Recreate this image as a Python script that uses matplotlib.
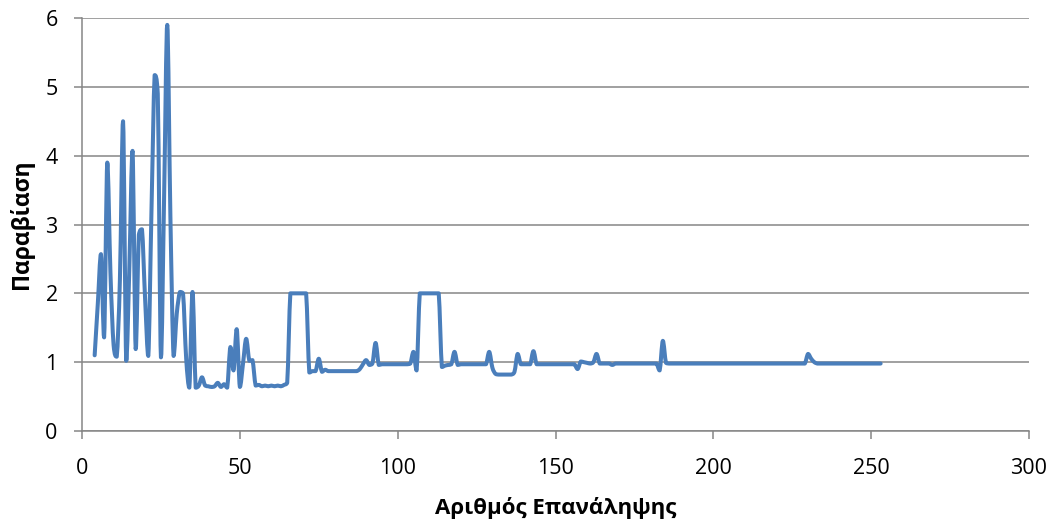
import matplotlib
matplotlib.use("Agg")
from matplotlib import pyplot as plt
from matplotlib.path import Path
from matplotlib.patches import PathPatch
import numpy as np

plt.rcParams["font.family"] = ["Open Sans", "DejaVu Sans"]

# iterations 4..253
iterations = list(range(4, 254))

# violation per iteration
violation = [
    1.10, 1.85, 2.57, 1.36, 3.90, 2.30, 1.25, 1.08, 2.20, 4.50,   # 4-13
    1.02, 2.40, 4.07, 1.19, 2.85, 2.93, 1.90, 1.09, 3.20, 5.17,   # 14-23
    4.90, 1.07, 3.40, 5.90, 3.10, 1.09, 1.70, 2.02, 2.00, 1.05,   # 24-33
    0.63, 2.02, 0.63, 0.66, 0.78, 0.66, 0.65, 0.64, 0.65, 0.70,   # 34-43
    0.64, 0.68, 0.63, 1.22, 0.88, 1.48, 0.64, 0.98, 1.34, 1.02,   # 44-53
    1.03, 0.66, 0.67, 0.65, 0.66, 0.65, 0.66, 0.65, 0.66, 0.65,   # 54-63
    0.67, 0.70, 2.00, 2.00, 2.00, 2.00, 2.00, 2.00, 0.85, 0.87,   # 64-73
    0.87, 1.05, 0.86, 0.89, 0.87, 0.87, 0.87, 0.87, 0.87, 0.87,   # 74-83
    0.87, 0.87, 0.87, 0.87, 0.90, 0.97, 1.03, 0.96, 0.98, 1.28,   # 84-93
    0.96, 0.97, 0.97, 0.97, 0.97, 0.97, 0.97, 0.97, 0.97, 0.97,   # 94-103
    0.98, 1.15, 0.88, 2.00, 2.00, 2.00, 2.00, 2.00, 2.00, 2.00,   # 104-113
    0.93, 0.95, 0.96, 0.97, 1.15, 0.96, 0.97, 0.97, 0.97, 0.97,   # 114-123
    0.97, 0.97, 0.97, 0.97, 0.97, 1.15, 0.92, 0.83, 0.82, 0.82,   # 124-133
    0.82, 0.82, 0.82, 0.86, 1.12, 0.97, 0.97, 0.97, 0.97, 1.16,   # 134-143
    0.97, 0.97, 0.97, 0.97, 0.97, 0.97, 0.97, 0.97, 0.97, 0.97,   # 144-153
    0.97, 0.97, 0.97, 0.90, 1.01, 1.00, 0.99, 0.98, 1.00, 1.12,   # 154-163
    0.98, 0.98, 0.98, 0.98, 0.96, 0.98, 0.98, 0.98, 0.98, 0.98,   # 164-173
    0.98, 0.98, 0.98, 0.98, 0.98, 0.98, 0.98, 0.98, 0.98, 0.88,   # 174-183
    1.31, 0.99, 0.98, 0.98, 0.98, 0.98, 0.98, 0.98, 0.98, 0.98,   # 184-193
    0.98, 0.98, 0.98, 0.98, 0.98, 0.98, 0.98, 0.98, 0.98, 0.98,   # 194-203
    0.98, 0.98, 0.98, 0.98, 0.98, 0.98, 0.98, 0.98, 0.98, 0.98,   # 204-213
    0.98, 0.98, 0.98, 0.98, 0.98, 0.98, 0.98, 0.98, 0.98, 0.98,   # 214-223
    0.98, 0.98, 0.98, 0.98, 0.98, 0.98, 1.12, 1.05, 1.00, 0.98,   # 224-233
    0.98, 0.98, 0.98, 0.98, 0.98, 0.98, 0.98, 0.98, 0.98, 0.98,   # 234-243
    0.98, 0.98, 0.98, 0.98, 0.98, 0.98, 0.98, 0.98, 0.98, 0.98,   # 244-253
]

x_ticks = [0, 50, 100, 150, 200, 250, 300]
y_ticks = [0, 1, 2, 3, 4, 5, 6]

line_color = "#4a7ebb"
grid_color = "#868686"


def smooth_path(xs, ys):
    # Excel-like smoothed line: cubic bezier through every point
    pts = np.column_stack([xs, ys]).astype(float)
    n = len(pts)
    verts = [tuple(pts[0])]
    codes = [Path.MOVETO]
    for i in range(n - 1):
        p0 = pts[max(i - 1, 0)]
        p1 = pts[i]
        p2 = pts[i + 1]
        p3 = pts[min(i + 2, n - 1)]
        c1 = p1 + (p2 - p0) / 6.0
        c2 = p2 - (p3 - p1) / 6.0
        lo, hi = min(p1[1], p2[1]), max(p1[1], p2[1])
        c1[1] = min(max(c1[1], lo), hi)
        c2[1] = min(max(c2[1], lo), hi)
        verts += [tuple(c1), tuple(c2), tuple(p2)]
        codes += [Path.CURVE4] * 3
    return Path(verts, codes)


fig = plt.figure(figsize=(10.53, 5.22), dpi=100)
ax = fig.add_axes([0.0779, 0.1743, 0.8993, 0.7912])

ax.add_patch(PathPatch(smooth_path(iterations, violation), facecolor="none",
                       edgecolor=line_color, linewidth=2.9, capstyle="round",
                       joinstyle="round", zorder=3))

ax.set_xlim(0, 300)
ax.set_ylim(0, 6)
ax.set_xticks(x_ticks)
ax.set_yticks(y_ticks)
ax.yaxis.grid(True, color=grid_color, linewidth=1.1, zorder=0)
ax.set_axisbelow(True)

for side in ["top", "right"]:
    ax.spines[side].set_visible(False)
for side in ["left", "bottom"]:
    ax.spines[side].set_color(grid_color)
    ax.spines[side].set_linewidth(1.1)

ax.tick_params(axis="both", direction="out", length=5.5, width=1.1,
               color=grid_color, labelsize=15.5)
ax.tick_params(axis="x", pad=14)
ax.tick_params(axis="y", pad=12)

ax.set_xlabel("Αριθμός Επανάληψης", fontsize=16, fontweight="bold", labelpad=13)
ax.set_ylabel("Παραβίαση", fontsize=16.5, fontweight="bold", labelpad=8)

fig.savefig("out.png", dpi=100)
